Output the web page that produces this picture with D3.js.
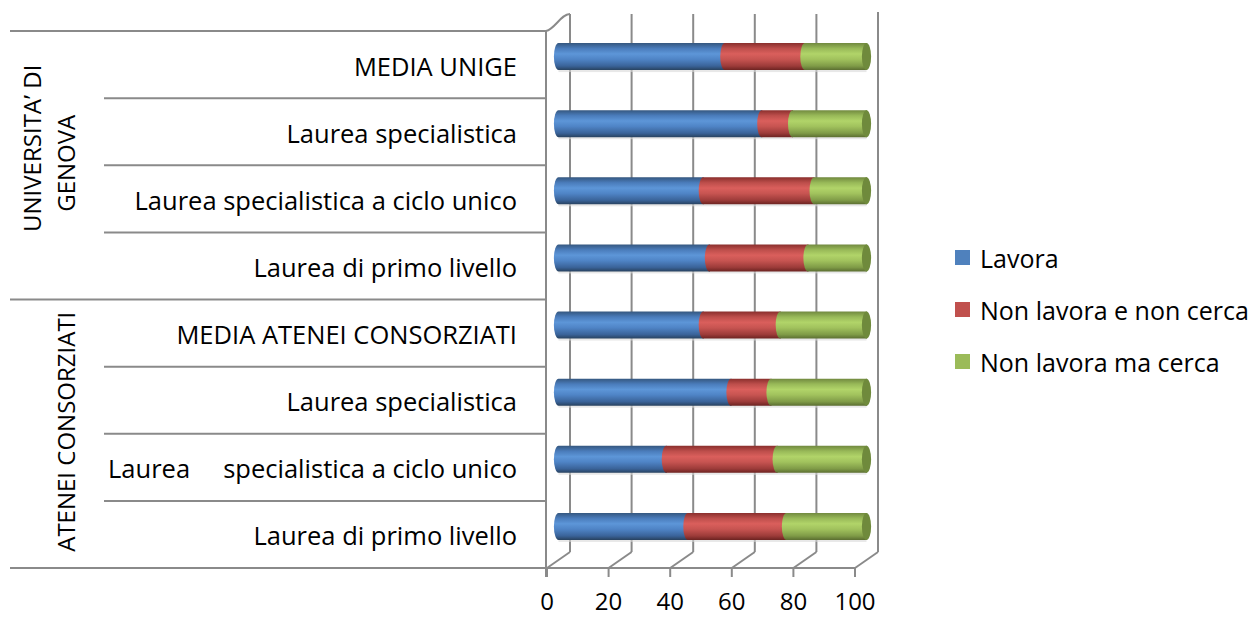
<!DOCTYPE html>
<html>
<head>
<meta charset="utf-8">
<script src="https://cdn.jsdelivr.net/npm/d3@7"></script>
<style>
  html, body { margin: 0; padding: 0; background: #fff; }
  svg { display: block; }
  text { font-family: "Open Sans", sans-serif; fill: #000; }
</style>
</head>
<body>
<svg id="chart" width="1254" height="617"></svg>
<script>
// ---- DATA ----
const categories = [
  "MEDIA UNIGE",
  "Laurea specialistica",
  "Laurea specialistica a ciclo unico",
  "Laurea di primo livello",
  "MEDIA ATENEI CONSORZIATI",
  "Laurea specialistica",
  "Laurea     specialistica a ciclo unico",
  "Laurea di primo livello"
];
const groups = [
  { lines: ["UNIVERSITA’ DI", "GENOVA"], from: 0, to: 3 },
  { lines: ["ATENEI CONSORZIATI"], from: 4, to: 7 }
];
const seriesNames = ["Lavora", "Non lavora e non cerca", "Non lavora ma cerca"];
const lavora         = [54, 66, 47, 49, 47, 56, 35, 42];
const nonLavNonCerca = [26, 10, 36, 32, 25, 13, 36, 32];
const nonLavMaCerca  = [20, 24, 17, 19, 28, 31, 29, 26];
const xTicks = [0, 20, 40, 60, 80, 100];

// ---- LAYOUT ----
const svg = d3.select("#chart");
const plotTop = 31, plotBottom = 568;
const frontLeft = 547, frontRight = 855;
const depth = { dx: 23, dy: -16 };
const gridColor = "#8a8a8a";
const colors = ["#4f81bd", "#c0504d", "#9bbb59"];
const grad = [
  ["#35577f", "#4a7cbb", "#5d96d8", "#4f84c6", "#3a6399", "#28425f"],
  ["#8a2f2d", "#bd4e4b", "#da5f5c", "#c75451", "#9c3b39", "#6c2321"],
  ["#71893f", "#98b958", "#b1d469", "#a1c25d", "#7f9b47", "#5b6e31"]
];
const capColors = ["#3b5f8f", "#8f3836", "#6f8a3c"];

const xF = d3.scaleLinear().domain([0, 100]).range([frontLeft, frontRight]);
const y = d3.scaleBand().domain(d3.range(categories.length)).range([plotTop, plotBottom]).padding(0);
const barH = 27;
const rx = 4.6;
const bx = v => xF(v) + depth.dx / 2;
const by = i => y(i) + y.bandwidth() / 2 + depth.dy / 2;

// gradients
const defs = svg.append("defs");
grad.forEach((stops, k) => {
  const g = defs.append("linearGradient").attr("id", "g" + k)
    .attr("x1", 0).attr("y1", 0).attr("x2", 0).attr("y2", 1);
  const offs = [0, 0.2, 0.4, 0.6, 0.85, 1];
  stops.forEach((c, j) => g.append("stop").attr("offset", offs[j]).attr("stop-color", c));
});

// ---- BACK WALL GRIDLINES / FLOOR ----
const gGrid = svg.append("g").attr("stroke", gridColor).attr("stroke-width", 2).attr("fill", "none");
xTicks.forEach(t => {
  const xb = xF(t) + depth.dx;
  gGrid.append("line").attr("x1", xb).attr("x2", xb)
    .attr("y1", plotTop + depth.dy - (t === 100 ? 3 : 1)).attr("y2", plotBottom + depth.dy);
  gGrid.append("line").attr("x1", xF(t)).attr("y1", plotBottom)
    .attr("x2", xb).attr("y2", plotBottom + depth.dy);
  gGrid.append("line").attr("x1", xF(t)).attr("x2", xF(t))
    .attr("y1", plotBottom).attr("y2", plotBottom + 9);
});
gGrid.append("line").attr("x1", xF(0)).attr("x2", xF(100)).attr("y1", plotBottom).attr("y2", plotBottom);
// left wall
gGrid.append("line").attr("x1", frontLeft - 1).attr("x2", frontLeft - 1)
  .attr("y1", plotTop).attr("y2", plotBottom + 9);
gGrid.append("path")
  .attr("d", `M${frontLeft - 1},${plotTop} C${frontLeft + 8},${plotTop - 2} ${frontLeft + 14},${plotTop + depth.dy - 1} ${frontLeft + depth.dx},${plotTop + depth.dy - 1}`);

// ---- CATEGORY SEPARATORS & LABELS ----
const gCat = svg.append("g");
d3.range(categories.length + 1).forEach(b => {
  const yy = b < categories.length ? y(b) : plotBottom;
  const full = (b === 0 || b === 4 || b === categories.length);
  gCat.append("line").attr("x1", full ? 10 : 104).attr("x2", frontLeft - 1)
    .attr("y1", yy).attr("y2", yy).attr("stroke", gridColor).attr("stroke-width", 2);
});
gCat.selectAll("text.cat").data(categories).join("text")
  .attr("class", "cat")
  .attr("x", 517)
  .attr("y", (d, i) => y(i) + y.bandwidth() / 2 + 1)
  .attr("text-anchor", "end")
  .attr("dominant-baseline", "central")
  .style("white-space", "pre")
  .attr("font-size", 25.5)
  .text(d => d);

// group labels (rotated)
groups.forEach(gr => {
  const cy = (y(gr.from) + y(gr.to) + y.bandwidth()) / 2;
  const n = gr.lines.length;
  gr.lines.forEach((ln, j) => {
    const cx = 65 - (n - 1 - j) * 34;
    const off = -(n - 1 - j) * 15 - 2;
    svg.append("text")
      .attr("transform", `translate(${cx},${cy + off}) rotate(-90)`)
      .attr("text-anchor", "middle")
      .attr("dominant-baseline", "central")
      .attr("font-size", 24)
      .text(ln);
  });
});

// ---- BARS (cylinders) ----
const series = [lavora, nonLavNonCerca, nonLavMaCerca];
const gBars = svg.append("g");
categories.forEach((c, i) => {
  const cy = by(i);
  const top = cy - barH / 2, bot = cy + barH / 2, ry = barH / 2;
  let acc = 0;
  gBars.append("rect").attr("x", bx(0)).attr("y", bot - 1)
    .attr("width", bx(100) - bx(0)).attr("height", 3).attr("fill", "#d8d8d8").attr("opacity", 0.6);
  series.forEach((s, k) => {
    const x0 = bx(acc), x1 = bx(acc + s[i]);
    acc += s[i];
    const d = `M${x0},${top} L${x1 + 0.5},${top} L${x1 + 0.5},${bot} L${x0},${bot} A${rx},${ry} 0 0 1 ${x0},${top} Z`;
    gBars.append("path").attr("d", d).attr("fill", `url(#g${k})`);
    if (k === series.length - 1) {
      gBars.append("ellipse").attr("cx", x1).attr("cy", cy).attr("rx", rx).attr("ry", ry)
        .attr("fill", capColors[k]);
    }
  });
});

// ---- X AXIS LABELS ----
svg.append("g").selectAll("text").data(xTicks).join("text")
  .attr("x", d => xF(d)).attr("y", 610)
  .attr("text-anchor", "middle")
  .attr("font-size", 24)
  .text(d => d);

// ---- LEGEND ----
const lg = svg.append("g");
seriesNames.forEach((n, k) => {
  const ly = 258 + k * 52;
  lg.append("rect").attr("x", 955).attr("y", ly - 8).attr("width", 15).attr("height", 15).attr("fill", colors[k]);
  lg.append("text").attr("x", 980).attr("y", ly).attr("dominant-baseline", "central")
    .attr("font-size", 25).text(n);
});
</script>
</body>
</html>
